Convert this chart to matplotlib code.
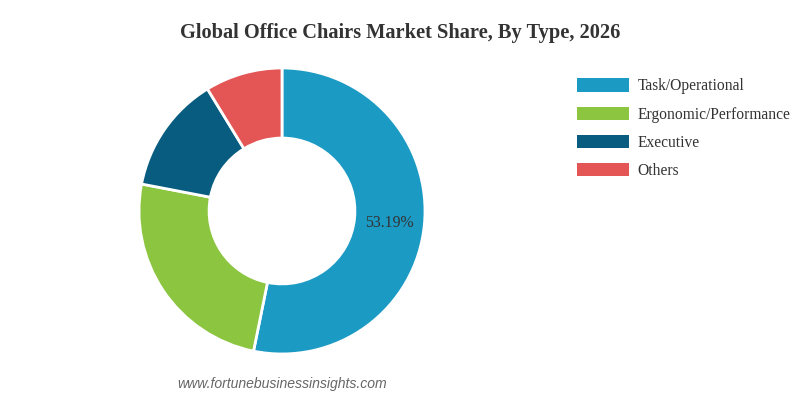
import matplotlib
matplotlib.use("Agg")
import matplotlib.pyplot as plt
from matplotlib.patches import Patch
import numpy as np

categories = ["Task/Operational", "Ergonomic/Performance", "Executive", "Others"]
shares = [53.19, 24.83, 13.25, 8.73]
colors = ["#1b9ac4", "#8cc540", "#075c80", "#e45656"]
title = "Global Office Chairs Market Share, By Type, 2026"
source = "www.fortunebusinessinsights.com"

fig = plt.figure(figsize=(8, 3.98), dpi=100)
fig.patch.set_facecolor("white")

ax = fig.add_axes([0.17375, 0.1106, 0.3575, 0.7186])
wedges, _ = ax.pie(shares, colors=colors, startangle=90, counterclock=False,
                   radius=1.0, wedgeprops=dict(width=0.49, edgecolor="white", linewidth=2))
ax.set_xlim(-1, 1)
ax.set_ylim(-1, 1)
ax.set_aspect("equal")
ax.axis("off")

# label on largest slice
w = wedges[0]
mid = np.deg2rad((w.theta1 + w.theta2) / 2)
r = 0.755
ax.text(r * np.cos(mid), r * np.sin(mid) - 0.01, f"{shares[0]:.2f}%", ha="center", va="center",
        fontsize=11.3, family="Liberation Serif", color="#333333")

fig.text(0.5, 0.918, title, ha="center", va="center", fontsize=14.7,
         family="Liberation Serif", fontweight="bold", color="#333333")

handles = [Patch(facecolor=c, edgecolor="none") for c in colors]
leg = fig.legend(handles, categories, loc="upper left", bbox_to_anchor=(0.721, 0.803),
                 frameon=False, prop=dict(family="Liberation Serif", size=11.2),
                 handlelength=3.35, handleheight=0.95, labelspacing=0.78,
                 handletextpad=0.55, borderpad=0, borderaxespad=0)
for t in leg.get_texts():
    t.set_color("#333333")

fig.text(0.353, 0.035, source, ha="center", va="center", fontsize=10.1,
         family="Liberation Sans", style="italic", color="#666666")

fig.savefig("out.png", dpi=100, facecolor="white")
